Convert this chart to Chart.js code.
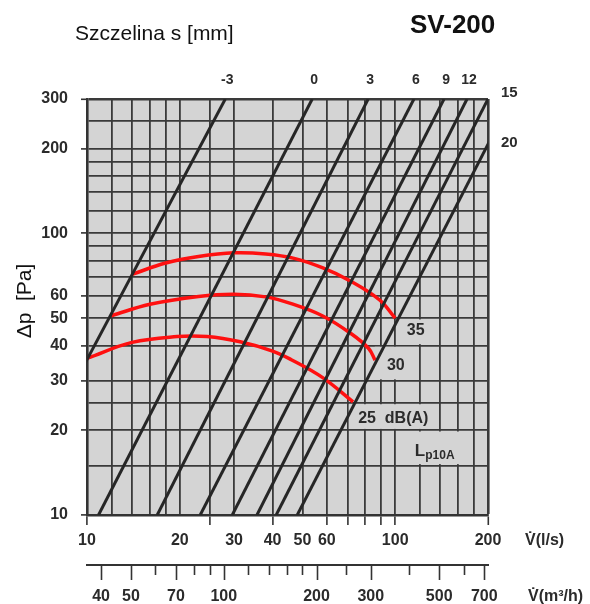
<!DOCTYPE html>
<html>
<head>
<meta charset="utf-8">
<script src="https://cdn.jsdelivr.net/npm/chart.js@4.4.1/dist/chart.umd.min.js"></script>
<style>
  body { margin: 0; background: #fff; }
  canvas { display: block; }
</style>
</head>
<body>
<canvas id="chart" width="590" height="604"></canvas>
<script>
// ------------ DATA ---------------
// slot lines: flow [l/s] read at 10 Pa and at 300 Pa
const slotLabels = ['-3', '0', '3', '6', '9', '12', '15', '20'];
const slotRefPa = [10, 300];
const slotFlowAt10Pa = [5.4, 10.9, 16.9, 23.3, 29.6, 35.6, 41.1, 48.1];
const slotFlowAt300Pa = [28.1, 53.8, 81.7, 115, 144, 171, 200, 238];

// noise curves Lp10A
const noise25Flow = [10, 14, 19.6, 24.5, 31.4, 40, 46, 58, 73];
const noise25Pa = [36, 41, 43, 43, 41.2, 38.2, 35.6, 30.8, 25.2];
const noise30Flow = [12, 16, 23, 30, 38, 46, 58, 72, 82, 86];
const noise30Pa = [51, 56, 59.7, 60.8, 59.5, 56.3, 51, 44, 39, 35.5];
const noise35Flow = [14, 18, 23, 30, 38, 47, 58, 71, 89, 100];
const noise35Pa = [71.5, 78.5, 82.8, 85.3, 84.5, 81.5, 75.5, 68, 58, 50];

// axes
const flowGrid = [10, 12, 14, 16, 18, 20, 25, 30, 40, 50, 60, 70, 80, 90, 100, 120, 140, 160, 180, 200];
const flowTickLabels = [10, 20, 30, 40, 50, 60, 100, 200];
const flowTickMarks = [10, 25, 40, 60, 70, 80, 90, 100, 200];
const paGrid = [10, 15, 20, 25, 30, 40, 50, 60, 70, 80, 90, 100, 120, 140, 160, 180, 200, 250, 300];
const paTickLabels = [10, 20, 30, 40, 50, 60, 100, 200, 300];
const m3hTicks = [40, 50, 60, 70, 80, 90, 100, 120, 140, 160, 180, 200, 250, 300, 400, 500, 600, 700];
const m3hTickLabels = [40, 50, 70, 100, 200, 300, 500, 700];

// ------------ STYLE ---------------
const FONT = '"Liberation Sans", Arial, sans-serif';
const BG = '#d4d4d4';
const GRID = '#3a3a3a';
const TXT = '#2b2b2b';

// cells where the grid is left out for the noise labels
const labelCells = [
  { flow: [100, 140], pa: [40, 50] },
  { flow: [85, 120], pa: [30, 40] },
  { flow: [70, 140], pa: [20, 25] },
  { flow: [100, 180], pa: [15, 20] }
];
const noiseTexts = [
  { text: '35', flow: 109, pa: 45.2 },
  { text: '30', flow: 94, pa: 33.9 },
  { text: '25  dB(A)', flow: 75.8, pa: 22 }
];

const slotDatasets = slotLabels.map((s, i) => ({
  label: 's ' + s,
  data: [{ x: slotFlowAt10Pa[i], y: slotRefPa[0] }, { x: slotFlowAt300Pa[i], y: slotRefPa[1] }],
  borderColor: '#262626',
  borderWidth: 3,
  pointRadius: 0,
  tension: 0
}));

const noiseDataset = (flow, pa, name) => ({
  label: name,
  data: flow.map((f, i) => ({ x: f, y: pa[i] })),
  borderColor: '#ff1010',
  borderWidth: 3.5,
  pointRadius: 0,
  tension: 0.4
});

const decor = {
  id: 'decor',
  beforeDraw(chart) {
    const { ctx, chartArea: a } = chart;
    ctx.save();
    ctx.fillStyle = BG;
    ctx.fillRect(a.left, a.top, a.right - a.left, a.bottom - a.top);
    ctx.restore();
  },
  beforeDatasetsDraw(chart) {
    const { ctx, scales: { x, y } } = chart;
    ctx.save();
    ctx.fillStyle = BG;
    labelCells.forEach(c => {
      const x0 = x.getPixelForValue(c.flow[0]) + 1.3;
      const x1 = x.getPixelForValue(c.flow[1]) - 1.3;
      const y0 = y.getPixelForValue(c.pa[1]) + 1.3;
      const y1 = y.getPixelForValue(c.pa[0]) - 1.3;
      ctx.fillRect(x0, y0, x1 - x0, y1 - y0);
    });
    ctx.restore();
  },
  afterDatasetsDraw(chart) {
    const { ctx, scales: { x, y } } = chart;
    ctx.save();
    ctx.fillStyle = TXT;
    ctx.textBaseline = 'middle';
    ctx.textAlign = 'left';
    ctx.font = 'bold 16px ' + FONT;
    noiseTexts.forEach(t => {
      ctx.fillText(t.text, x.getPixelForValue(t.flow), y.getPixelForValue(t.pa));
    });
    // Lp10A
    ctx.textBaseline = 'alphabetic';
    const lx = x.getPixelForValue(115.8);
    const ly = y.getPixelForValue(17.2) + 7;
    ctx.font = 'bold 17px ' + FONT;
    ctx.fillText('L', lx, ly);
    const lw = ctx.measureText('L').width;
    ctx.font = 'bold 12px ' + FONT;
    ctx.fillText('p10A', lx + lw, ly + 3);
    ctx.restore();
  },
  afterDraw(chart) {
    const { ctx, chartArea: a, scales: { x, y, x2 } } = chart;
    ctx.save();
    ctx.fillStyle = '#111';
    ctx.textBaseline = 'alphabetic';
    ctx.textAlign = 'left';
    ctx.font = '21px ' + FONT;
    ctx.fillText('Szczelina s [mm]', 75, 40);
    ctx.font = 'bold 26px ' + FONT;
    ctx.fillText('SV-200', 410, 33);

    // axis title
    ctx.save();
    ctx.translate(31, 301);
    ctx.rotate(-Math.PI / 2);
    ctx.textAlign = 'center';
    ctx.font = '21px ' + FONT;
    ctx.fillText('\u0394p  [Pa]', 0, 0);
    ctx.restore();

    // slot labels
    ctx.fillStyle = TXT;
    ctx.textBaseline = 'middle';
    slotLabels.forEach((s, i) => {
      const lo = slotFlowAt10Pa[i], hi = slotFlowAt300Pa[i];
      if (hi < 195) {
        ctx.textAlign = 'center';
        ctx.font = 'bold 14px ' + FONT;
        ctx.fillText(s, x.getPixelForValue(hi) + 2, 80);
      } else {
        const t = (Math.log10(x.max) - Math.log10(lo)) / (Math.log10(hi) - Math.log10(lo));
        const p = Math.pow(10, Math.log10(slotRefPa[0]) + t * (Math.log10(slotRefPa[1]) - Math.log10(slotRefPa[0])));
        let py = y.getPixelForValue(p);
        if (py <= a.top + 2) py = a.top - 5;
        ctx.textAlign = 'left';
        ctx.font = 'bold 15px ' + FONT;
        ctx.fillText(s, a.right + 13, py - 1);
      }
    });

    // units
    ctx.textAlign = 'left';
    ctx.font = 'bold 16px ' + FONT;
    ctx.fillText('V\u0307(l/s)', 525, 541);
    ctx.fillText('V\u0307(m\u00B3/h)', 528, 597);

    // m3/h tick marks
    ctx.strokeStyle = '#333';
    ctx.lineWidth = 1.6;
    m3hTicks.forEach(v => {
      const px = Math.round(x2.getPixelForValue(v)) + 0.5;
      const len = m3hTickLabels.includes(v) ? 15 : 10;
      ctx.beginPath();
      ctx.moveTo(px, x2.top);
      ctx.lineTo(px, x2.top + len);
      ctx.stroke();
    });
    ctx.restore();
  }
};

new Chart(document.getElementById('chart'), {
  type: 'line',
  data: {
    datasets: [
      ...slotDatasets,
      noiseDataset(noise25Flow, noise25Pa, '25 dB(A)'),
      noiseDataset(noise30Flow, noise30Pa, '30 dB(A)'),
      noiseDataset(noise35Flow, noise35Pa, '35 dB(A)')
    ]
  },
  options: {
    responsive: false,
    animation: false,
    layout: { padding: { top: 99, right: 102, left: 0, bottom: 0 } },
    plugins: {
      legend: { display: false },
      tooltip: { enabled: false }
    },
    scales: {
      x: {
        type: 'logarithmic',
        position: 'bottom',
        min: 10,
        max: 200,
        afterBuildTicks: axis => { axis.ticks = flowGrid.map(v => ({ value: v })); },
        afterFit: axis => { axis.height = 50; },
        grid: {
          color: GRID,
          lineWidth: c => (c.tick && c.tick.value === 200 ? 2.6 : 1.8),
          tickLength: 10,
          tickColor: c => (c.tick && flowTickMarks.includes(c.tick.value) ? '#333' : 'rgba(0,0,0,0)'),
          tickWidth: 1.6
        },
        border: { color: '#333', width: 2.6 },
        ticks: {
          autoSkip: false,
          maxRotation: 0,
          padding: 6,
          color: TXT,
          font: { family: FONT, size: 16, weight: 'bold' },
          callback: v => (flowTickLabels.includes(v) ? String(v) : '')
        }
      },
      x2: {
        type: 'logarithmic',
        position: 'bottom',
        min: 36,
        max: 720,
        afterBuildTicks: axis => { axis.ticks = m3hTicks.map(v => ({ value: v })); },
        afterFit: axis => { axis.height = 39; },
        grid: { drawOnChartArea: false, drawTicks: false },
        border: { color: '#333', width: 2 },
        ticks: {
          autoSkip: false,
          maxRotation: 0,
          padding: 22,
          color: TXT,
          font: { family: FONT, size: 16, weight: 'bold' },
          callback: v => (m3hTickLabels.includes(v) ? String(v) : '')
        }
      },
      y: {
        type: 'logarithmic',
        min: 10,
        max: 300,
        afterBuildTicks: axis => { axis.ticks = paGrid.map(v => ({ value: v })); },
        afterFit: axis => { axis.width = 87; },
        grid: {
          color: GRID,
          lineWidth: c => (c.tick && c.tick.value === 300 ? 2.6 : 1.8),
          tickLength: 6,
          tickColor: c => (c.tick && paTickLabels.includes(c.tick.value) ? '#333' : 'rgba(0,0,0,0)'),
          tickWidth: 1.6
        },
        border: { color: '#333', width: 2.6 },
        ticks: {
          autoSkip: false,
          padding: 13,
          color: TXT,
          font: { family: FONT, size: 16, weight: 'bold' },
          callback: v => (paTickLabels.includes(v) ? String(v) : '')
        }
      }
    }
  },
  plugins: [decor]
});
</script>
</body>
</html>
